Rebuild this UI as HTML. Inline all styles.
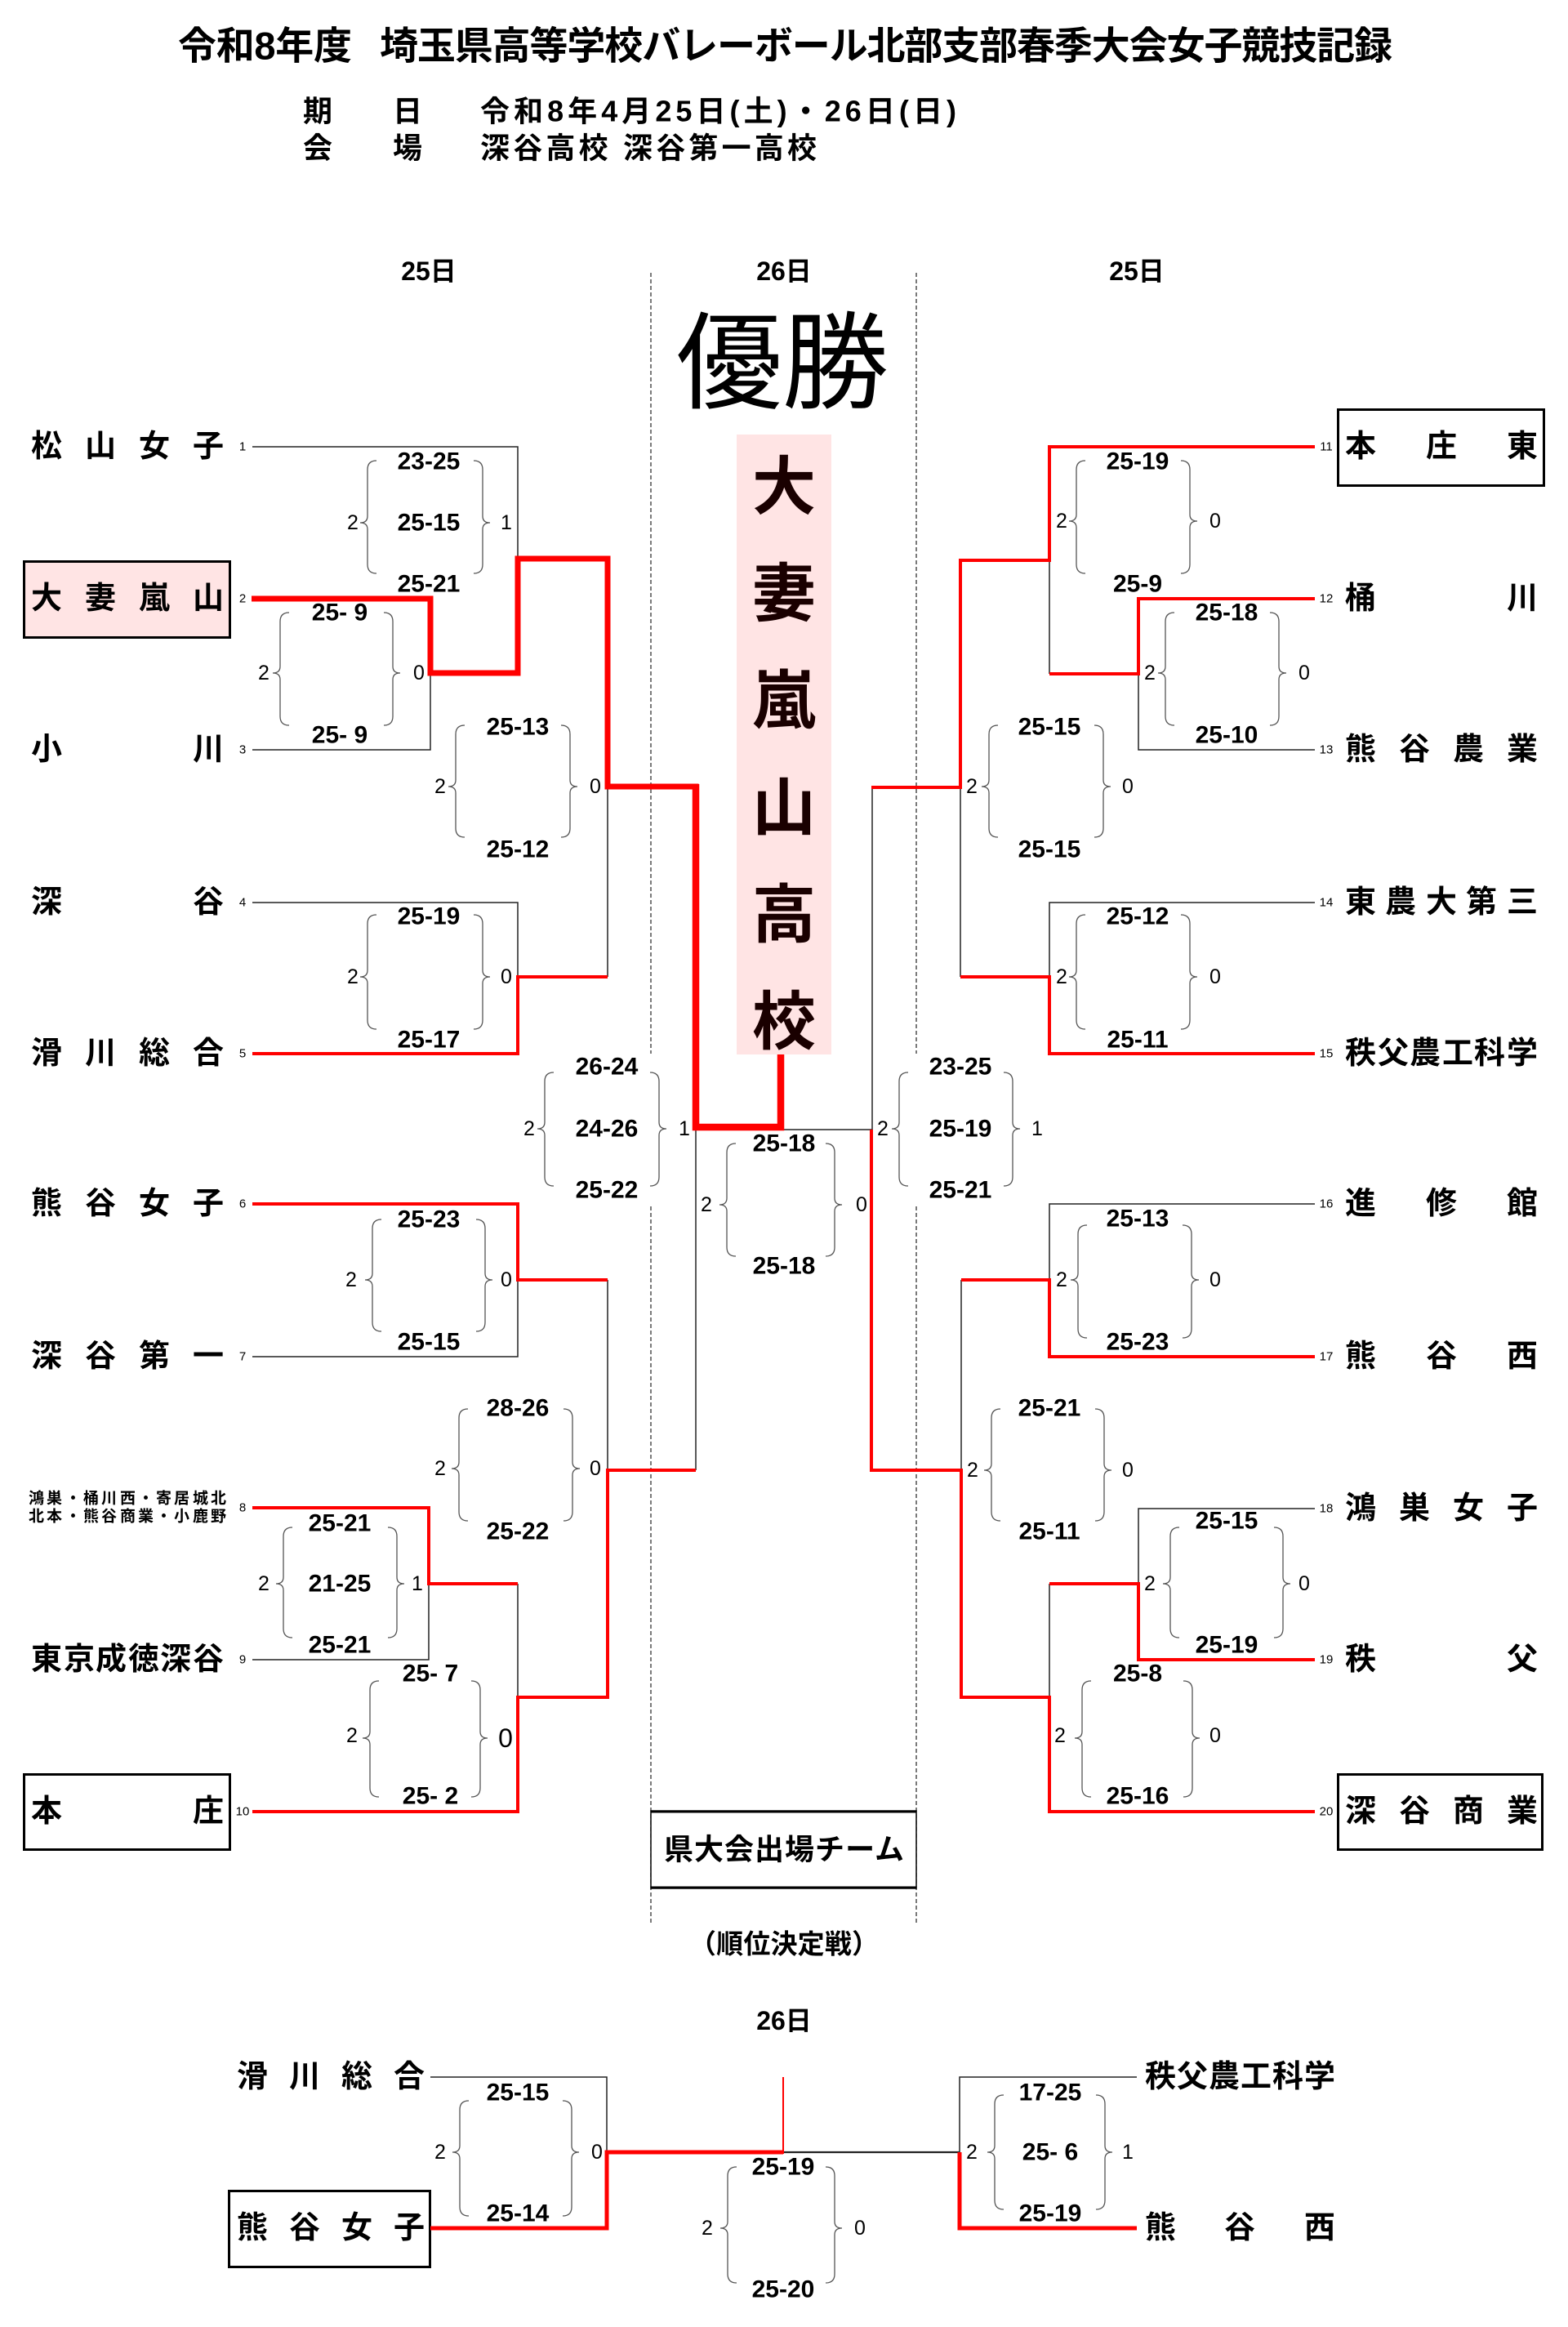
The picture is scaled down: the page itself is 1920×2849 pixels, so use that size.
<!DOCTYPE html>
<html><head><meta charset="utf-8"><title>令和8年度 埼玉県高等学校バレーボール北部支部春季大会女子競技記録</title>
<style>
html,body{margin:0;padding:0;background:#fff;}
svg{display:block;}
.t{font-family:"Liberation Sans","Noto Sans CJK JP",sans-serif;font-weight:bold;dominant-baseline:central;fill:#000;}
.nm{font-family:"Liberation Sans","Noto Sans CJK JP",sans-serif;font-weight:bold;font-size:38px;dominant-baseline:central;fill:#000;}
.sm{font-family:"Liberation Sans","Noto Sans CJK JP",sans-serif;font-weight:bold;font-size:19px;dominant-baseline:central;fill:#000;}
.s{font-family:"Liberation Sans",sans-serif;font-size:30px;font-weight:bold;text-anchor:middle;dominant-baseline:central;fill:#000;}
.n{font-family:"Liberation Sans",sans-serif;font-size:25px;text-anchor:middle;dominant-baseline:central;fill:#000;}
.sd{font-family:"Liberation Sans",sans-serif;font-size:15px;text-anchor:middle;dominant-baseline:central;fill:#000;}
.k{stroke:#222;stroke-width:1.5;fill:none;}
.r{stroke:#ff0000;stroke-width:4;fill:none;stroke-linejoin:miter;}
.b{stroke:#555;stroke-width:1.3;fill:none;}
.d{stroke:#333;stroke-width:1.3;stroke-dasharray:5 3;fill:none;}
</style></head>
<body>
<svg width="1920" height="2849" viewBox="0 0 1920 2849" xmlns="http://www.w3.org/2000/svg">
<rect x="0" y="0" width="1920" height="2849" fill="#fff"/>

<!-- Header -->
<text class="t" x="218" y="56" font-size="47" textLength="213">令和8年度</text>
<text class="t" x="465" y="56" font-size="47" textLength="1240">埼玉県高等学校バレーボール北部支部春季大会女子競技記録</text>
<text class="t" x="371 481" y="136" font-size="36">期日</text>
<text class="t" x="588" y="136" font-size="36" textLength="583">令和8年4月25日(土)・26日(日)</text>
<text class="t" x="371 481" y="181" font-size="36">会場</text>
<text class="t" x="588" y="181" font-size="36" textLength="412">深谷高校 深谷第一高校</text>

<text class="t" x="525" y="332" font-size="32" text-anchor="middle">25日</text>
<text class="t" x="960" y="332" font-size="32" text-anchor="middle">26日</text>
<text class="t" x="1392" y="332" font-size="32" text-anchor="middle">25日</text>

<!-- dashed lines -->
<line class="d" x1="797" y1="334" x2="797" y2="1290"/>
<line class="d" x1="797" y1="1477" x2="797" y2="2357"/>
<line class="d" x1="1122" y1="334" x2="1122" y2="1290"/>
<line class="d" x1="1122" y1="1477" x2="1122" y2="2357"/>

<!-- 優勝 -->
<text x="958" y="434" font-size="130" text-anchor="middle" style="font-family:'Noto Sans CJK JP',sans-serif;dominant-baseline:central;fill:#000;">優勝</text>
<rect x="902" y="532" width="116" height="759" fill="#ffe4e4"/>
<g style="font-family:'Noto Sans CJK JP',sans-serif;font-weight:bold;font-size:78px;dominant-baseline:central;fill:#1a0000;" text-anchor="middle">
<text x="960" y="590">大</text>
<text x="960" y="721">妻</text>
<text x="960" y="852">嵐</text>
<text x="960" y="983">山</text>
<text x="960" y="1114">高</text>
<text x="960" y="1245">校</text>
</g>

<!-- Team boxes -->
<rect x="29.5" y="687.5" width="252" height="93" fill="#ffe4e4" stroke="#000" stroke-width="3"/>
<rect x="29.5" y="2172.5" width="252" height="92" fill="#fff" stroke="#000" stroke-width="3"/>
<rect x="1638.5" y="501.5" width="252" height="93" fill="#fff" stroke="#000" stroke-width="3"/>
<rect x="1638.5" y="2172.5" width="250" height="92" fill="#fff" stroke="#000" stroke-width="3"/>

<!-- Left team names -->
<text class="nm" x="38 104 170 236" y="547">松山女子</text>
<text class="nm" x="38 104 170 236" y="733">大妻嵐山</text>
<text class="nm" x="38 236" y="918">小川</text>
<text class="nm" x="38 236" y="1105">深谷</text>
<text class="nm" x="38 104 170 236" y="1290">滑川総合</text>
<text class="nm" x="38 104 170 236" y="1474">熊谷女子</text>
<text class="nm" x="38 104 170 236" y="1661">深谷第一</text>
<text class="sm" x="35 57 80 102 124 147 169 191 213 236 258" y="1835">鴻巣・桶川西・寄居城北</text>
<text class="sm" x="35 57 80 102 124 147 169 191 213 236 258" y="1857">北本・熊谷商業・小鹿野</text>
<text class="nm" x="38 78 117 157 196 236" y="2032">東京成徳深谷</text>
<text class="nm" x="38 236" y="2218">本庄</text>

<!-- Right team names -->
<text class="nm" x="1647 1746 1845" y="547">本庄東</text>
<text class="nm" x="1647 1845" y="733">桶川</text>
<text class="nm" x="1647 1713 1779 1845" y="918">熊谷農業</text>
<text class="nm" x="1647 1696 1746 1795 1845" y="1105">東農大第三</text>
<text class="nm" x="1647 1687 1726 1766 1805 1845" y="1290">秩父農工科学</text>
<text class="nm" x="1647 1746 1845" y="1474">進修館</text>
<text class="nm" x="1647 1746 1845" y="1661">熊谷西</text>
<text class="nm" x="1647 1713 1779 1845" y="1847">鴻巣女子</text>
<text class="nm" x="1647 1845" y="2032">秩父</text>
<text class="nm" x="1647 1713 1779 1845" y="2218">深谷商業</text>

<!-- Seeds -->
<text class="sd" x="297" y="547">1</text>
<text class="sd" x="297" y="733">2</text>
<text class="sd" x="297" y="918">3</text>
<text class="sd" x="297" y="1105">4</text>
<text class="sd" x="297" y="1290">5</text>
<text class="sd" x="297" y="1474">6</text>
<text class="sd" x="297" y="1661">7</text>
<text class="sd" x="297" y="1846">8</text>
<text class="sd" x="297" y="2032">9</text>
<text class="sd" x="297" y="2218">10</text>
<text class="sd" x="1624" y="547">11</text>
<text class="sd" x="1624" y="733">12</text>
<text class="sd" x="1624" y="918">13</text>
<text class="sd" x="1624" y="1105">14</text>
<text class="sd" x="1624" y="1290">15</text>
<text class="sd" x="1624" y="1474">16</text>
<text class="sd" x="1624" y="1661">17</text>
<text class="sd" x="1624" y="1847">18</text>
<text class="sd" x="1624" y="2032">19</text>
<text class="sd" x="1624" y="2218">20</text>

<!-- Black thin lines -->
<polyline class="k" points="309,547 634,547 634,684"/>
<polyline class="k" points="527,824 527,918 309,918"/>
<polyline class="k" points="744,963 744,1196"/>
<polyline class="k" points="309,1105 634,1105 634,1196"/>
<polyline class="k" points="634,1567 634,1661 309,1661"/>
<polyline class="k" points="744,1567 744,1800"/>
<polyline class="k" points="852,1380 852,1800"/>
<polyline class="k" points="525,1939 525,2032 309,2032"/>
<polyline class="k" points="634,1939 634,2078"/>
<polyline class="k" points="956,1383 1068,1383"/>
<polyline class="k" points="1068,964 1068,1383"/>
<polyline class="k" points="1285,686 1285,825"/>
<polyline class="k" points="1394,825 1394,918 1610,918"/>
<polyline class="k" points="1176,964 1176,1196"/>
<polyline class="k" points="1610,1105 1285,1105 1285,1196"/>
<polyline class="k" points="1610,1474 1285,1474 1285,1567"/>
<polyline class="k" points="1177,1567 1177,1800"/>
<polyline class="k" points="1610,1847 1394,1847 1394,1939"/>
<polyline class="k" points="1285,1939 1285,2078"/>

<!-- Red lines -->
<polyline class="r" points="309,1290 634,1290 634,1196 744,1196"/>
<polyline class="r" points="309,1474 634,1474 634,1567 744,1567"/>
<polyline class="r" points="852,1800 744,1800 744,2078 634,2078 634,2218 309,2218"/>
<polyline class="r" points="309,1846 525,1846 525,1939 634,1939"/>
<polyline class="r" points="1610,547 1285,547 1285,686 1176,686 1176,964 1067,964"/>
<polyline class="r" points="1610,733 1394,733 1394,825 1285,825"/>
<polyline class="r" points="1610,1290 1285,1290 1285,1196 1176,1196"/>
<polyline class="r" points="1610,1661 1285,1661 1285,1567 1177,1567"/>
<polyline class="r" points="1067,1383 1067,1800 1177,1800 1177,2078 1285,2078 1285,2218 1610,2218"/>
<polyline class="r" points="1610,2032 1394,2032 1394,1939 1285,1939"/>
<!-- Champion path -->
<polyline class="r" style="stroke-width:7" points="308,733 527,733 527,824 634,824 634,684 744,684 744,963 852,963 852,1380"/>
<polyline class="r" style="stroke-width:8.5" points="852,960 852,1380 956,1380 956,1291"/>

<!-- Braces -->
<g class="b">
<path d="M354 750 Q343 750 343 761 L343 816 Q343 824 334 824 Q343 824 343 832 L343 877 Q343 888 354 888"/>
<path d="M470 750 Q481 750 481 761 L481 816 Q481 824 490 824 Q481 824 481 832 L481 877 Q481 888 470 888"/>
<path d="M461 564 Q450 564 450 575 L450 632 Q450 640 441 640 Q450 640 450 648 L450 691 Q450 702 461 702"/>
<path d="M580 564 Q591 564 591 575 L591 632 Q591 640 600 640 Q591 640 591 648 L591 691 Q591 702 580 702"/>
<path d="M461 1120 Q450 1120 450 1131 L450 1188 Q450 1196 441 1196 Q450 1196 450 1204 L450 1249 Q450 1260 461 1260"/>
<path d="M580 1120 Q591 1120 591 1131 L591 1188 Q591 1196 600 1196 Q591 1196 591 1204 L591 1249 Q591 1260 580 1260"/>
<path d="M569 888 Q558 888 558 899 L558 955 Q558 963 549 963 Q558 963 558 971 L558 1014 Q558 1025 569 1025"/>
<path d="M687 888 Q698 888 698 899 L698 955 Q698 963 707 963 Q698 963 698 971 L698 1014 Q698 1025 687 1025"/>
<path d="M467 1493 Q456 1493 456 1504 L456 1559 Q456 1567 447 1567 Q456 1567 456 1575 L456 1619 Q456 1630 467 1630"/>
<path d="M583 1493 Q594 1493 594 1504 L594 1559 Q594 1567 603 1567 Q594 1567 594 1575 L594 1619 Q594 1630 583 1630"/>
<path d="M358 1870 Q347 1870 347 1881 L347 1931 Q347 1939 338 1939 Q347 1939 347 1947 L347 1994 Q347 2005 358 2005"/>
<path d="M475 1870 Q486 1870 486 1881 L486 1931 Q486 1939 495 1939 Q486 1939 486 1947 L486 1994 Q486 2005 475 2005"/>
<path d="M464 2058 Q453 2058 453 2069 L453 2120 Q453 2128 444 2128 Q453 2128 453 2136 L453 2189 Q453 2200 464 2200"/>
<path d="M577 2058 Q588 2058 588 2069 L588 2120 Q588 2128 597 2128 Q588 2128 588 2136 L588 2189 Q588 2200 577 2200"/>
<path d="M573 1725 Q562 1725 562 1736 L562 1790 Q562 1798 553 1798 Q562 1798 562 1806 L562 1851 Q562 1862 573 1862"/>
<path d="M690 1725 Q701 1725 701 1736 L701 1790 Q701 1798 710 1798 Q701 1798 701 1806 L701 1851 Q701 1862 690 1862"/>
<path d="M678 1313 Q667 1313 667 1324 L667 1374 Q667 1382 658 1382 Q667 1382 667 1390 L667 1441 Q667 1452 678 1452"/>
<path d="M796 1313 Q807 1313 807 1324 L807 1374 Q807 1382 816 1382 Q807 1382 807 1390 L807 1441 Q807 1452 796 1452"/>
<path d="M901 1400 Q890 1400 890 1411 L890 1467 Q890 1475 881 1475 Q890 1475 890 1483 L890 1527 Q890 1538 901 1538"/>
<path d="M1011 1400 Q1022 1400 1022 1411 L1022 1467 Q1022 1475 1031 1475 Q1022 1475 1022 1483 L1022 1527 Q1022 1538 1011 1538"/>
<path d="M1438 750 Q1427 750 1427 761 L1427 816 Q1427 824 1418 824 Q1427 824 1427 832 L1427 877 Q1427 888 1438 888"/>
<path d="M1555 750 Q1566 750 1566 761 L1566 816 Q1566 824 1575 824 Q1566 824 1566 832 L1566 877 Q1566 888 1555 888"/>
<path d="M1329 564 Q1318 564 1318 575 L1318 630 Q1318 638 1309 638 Q1318 638 1318 646 L1318 691 Q1318 702 1329 702"/>
<path d="M1446 564 Q1457 564 1457 575 L1457 630 Q1457 638 1466 638 Q1457 638 1457 646 L1457 691 Q1457 702 1446 702"/>
<path d="M1329 1120 Q1318 1120 1318 1131 L1318 1188 Q1318 1196 1309 1196 Q1318 1196 1318 1204 L1318 1249 Q1318 1260 1329 1260"/>
<path d="M1446 1120 Q1457 1120 1457 1131 L1457 1188 Q1457 1196 1466 1196 Q1457 1196 1457 1204 L1457 1249 Q1457 1260 1446 1260"/>
<path d="M1222 888 Q1211 888 1211 899 L1211 955 Q1211 963 1202 963 Q1211 963 1211 971 L1211 1014 Q1211 1025 1222 1025"/>
<path d="M1340 888 Q1351 888 1351 899 L1351 955 Q1351 963 1360 963 Q1351 963 1351 971 L1351 1014 Q1351 1025 1340 1025"/>
<path d="M1331 1500 Q1320 1500 1320 1511 L1320 1559 Q1320 1567 1311 1567 Q1320 1567 1320 1575 L1320 1627 Q1320 1638 1331 1638"/>
<path d="M1448 1500 Q1459 1500 1459 1511 L1459 1559 Q1459 1567 1468 1567 Q1459 1567 1459 1575 L1459 1627 Q1459 1638 1448 1638"/>
<path d="M1444 1870 Q1433 1870 1433 1881 L1433 1931 Q1433 1939 1424 1939 Q1433 1939 1433 1947 L1433 1994 Q1433 2005 1444 2005"/>
<path d="M1560 1870 Q1571 1870 1571 1881 L1571 1931 Q1571 1939 1580 1939 Q1571 1939 1571 1947 L1571 1994 Q1571 2005 1560 2005"/>
<path d="M1336 2058 Q1325 2058 1325 2069 L1325 2120 Q1325 2128 1316 2128 Q1325 2128 1325 2136 L1325 2189 Q1325 2200 1336 2200"/>
<path d="M1449 2058 Q1460 2058 1460 2069 L1460 2120 Q1460 2128 1469 2128 Q1460 2128 1460 2136 L1460 2189 Q1460 2200 1449 2200"/>
<path d="M1225 1725 Q1214 1725 1214 1736 L1214 1792 Q1214 1800 1205 1800 Q1214 1800 1214 1808 L1214 1851 Q1214 1862 1225 1862"/>
<path d="M1341 1725 Q1352 1725 1352 1736 L1352 1792 Q1352 1800 1361 1800 Q1352 1800 1352 1808 L1352 1851 Q1352 1862 1341 1862"/>
<path d="M1112 1313 Q1101 1313 1101 1324 L1101 1374 Q1101 1382 1092 1382 Q1101 1382 1101 1390 L1101 1441 Q1101 1452 1112 1452"/>
<path d="M1229 1313 Q1240 1313 1240 1324 L1240 1374 Q1240 1382 1249 1382 Q1240 1382 1240 1390 L1240 1441 Q1240 1452 1229 1452"/>
<path d="M574 2572 Q563 2572 563 2583 L563 2627 Q563 2635 554 2635 Q563 2635 563 2643 L563 2702 Q563 2713 574 2713"/>
<path d="M689 2572 Q700 2572 700 2583 L700 2627 Q700 2635 709 2635 Q700 2635 700 2643 L700 2702 Q700 2713 689 2713"/>
<path d="M902 2653 Q891 2653 891 2664 L891 2720 Q891 2728 882 2728 Q891 2728 891 2736 L891 2784 Q891 2795 902 2795"/>
<path d="M1011 2653 Q1022 2653 1022 2664 L1022 2720 Q1022 2728 1031 2728 Q1022 2728 1022 2736 L1022 2784 Q1022 2795 1011 2795"/>
<path d="M1229 2565 Q1218 2565 1218 2576 L1218 2627 Q1218 2635 1209 2635 Q1218 2635 1218 2643 L1218 2694 Q1218 2705 1229 2705"/>
<path d="M1342 2565 Q1353 2565 1353 2576 L1353 2627 Q1353 2635 1362 2635 Q1353 2635 1353 2643 L1353 2694 Q1353 2705 1342 2705"/>
</g>

<!-- Scores left -->
<text class="s" x="416" y="750">25- 9</text>
<text class="s" x="416" y="900">25- 9</text>
<text class="n" x="323" y="824">2</text><text class="n" x="513" y="824">0</text>

<text class="s" x="525" y="565">23-25</text>
<text class="s" x="525" y="640">25-15</text>
<text class="s" x="525" y="715">25-21</text>
<text class="n" x="432" y="640">2</text><text class="n" x="620" y="640">1</text>

<text class="s" x="525" y="1122">25-19</text>
<text class="s" x="525" y="1273">25-17</text>
<text class="n" x="432" y="1196">2</text><text class="n" x="620" y="1196">0</text>

<text class="s" x="634" y="890">25-13</text>
<text class="s" x="634" y="1040">25-12</text>
<text class="n" x="539" y="963">2</text><text class="n" x="729" y="963">0</text>

<text class="s" x="525" y="1493">25-23</text>
<text class="s" x="525" y="1643">25-15</text>
<text class="n" x="430" y="1567">2</text><text class="n" x="620" y="1567">0</text>

<text class="s" x="416" y="1865">25-21</text>
<text class="s" x="416" y="1939">21-25</text>
<text class="s" x="416" y="2014">25-21</text>
<text class="n" x="323" y="1939">2</text><text class="n" x="511" y="1939">1</text>

<text class="s" x="527" y="2049">25- 7</text>
<text class="s" x="527" y="2199">25- 2</text>
<text class="n" x="431" y="2125">2</text><text class="n" x="619" y="2128" style="font-size:32px">0</text>

<text class="s" x="634" y="1724">28-26</text>
<text class="s" x="634" y="1875">25-22</text>
<text class="n" x="539" y="1798">2</text><text class="n" x="729" y="1798">0</text>

<text class="s" x="743" y="1306">26-24</text>
<text class="s" x="743" y="1382">24-26</text>
<text class="s" x="743" y="1457">25-22</text>
<text class="n" x="648" y="1382">2</text><text class="n" x="838" y="1382">1</text>

<!-- Final -->
<text class="s" x="960" y="1400">25-18</text>
<text class="s" x="960" y="1550">25-18</text>
<text class="n" x="865" y="1475">2</text><text class="n" x="1055" y="1475">0</text>

<!-- Scores right -->
<text class="s" x="1502" y="750">25-18</text>
<text class="s" x="1502" y="900">25-10</text>
<text class="n" x="1408" y="824">2</text><text class="n" x="1597" y="824">0</text>

<text class="s" x="1393" y="565">25-19</text>
<text class="s" x="1393" y="715">25-9</text>
<text class="n" x="1300" y="638">2</text><text class="n" x="1488" y="638">0</text>

<text class="s" x="1393" y="1122">25-12</text>
<text class="s" x="1393" y="1273">25-11</text>
<text class="n" x="1300" y="1196">2</text><text class="n" x="1488" y="1196">0</text>

<text class="s" x="1285" y="890">25-15</text>
<text class="s" x="1285" y="1040">25-15</text>
<text class="n" x="1190" y="963">2</text><text class="n" x="1381" y="963">0</text>

<text class="s" x="1393" y="1492">25-13</text>
<text class="s" x="1393" y="1643">25-23</text>
<text class="n" x="1300" y="1567">2</text><text class="n" x="1488" y="1567">0</text>

<text class="s" x="1502" y="1862">25-15</text>
<text class="s" x="1502" y="2014">25-19</text>
<text class="n" x="1408" y="1939">2</text><text class="n" x="1597" y="1939">0</text>

<text class="s" x="1393" y="2049">25-8</text>
<text class="s" x="1393" y="2199">25-16</text>
<text class="n" x="1298" y="2125">2</text><text class="n" x="1488" y="2125">0</text>

<text class="s" x="1285" y="1724">25-21</text>
<text class="s" x="1285" y="1875">25-11</text>
<text class="n" x="1191" y="1800">2</text><text class="n" x="1381" y="1800">0</text>

<text class="s" x="1176" y="1306">23-25</text>
<text class="s" x="1176" y="1382">25-19</text>
<text class="s" x="1176" y="1457">25-21</text>
<text class="n" x="1081" y="1382">2</text><text class="n" x="1270" y="1382">1</text>

<!-- 県大会出場チーム box -->
<rect x="797" y="2217" width="325" height="95" fill="#fff" stroke="#000" stroke-width="1.5"/>
<line x1="797" y1="2218" x2="1122" y2="2218" stroke="#000" stroke-width="3"/>
<line x1="797" y1="2311" x2="1122" y2="2311" stroke="#000" stroke-width="3"/>
<text class="t" x="960" y="2264" font-size="36" text-anchor="middle" textLength="294">県大会出場チーム</text>

<text class="t" x="960" y="2380" font-size="33" text-anchor="middle" textLength="232">（順位決定戦）</text>

<!-- Bottom section -->
<text class="t" x="960" y="2474" font-size="32" text-anchor="middle">26日</text>

<rect x="280.5" y="2682.5" width="246" height="93" fill="#fff" stroke="#000" stroke-width="3"/>
<text class="nm" x="290 354 418 482" y="2543">滑川総合</text>
<text class="nm" x="290 354 418 482" y="2728">熊谷女子</text>
<text class="nm" x="1402 1441 1480 1519 1558 1597" y="2543">秩父農工科学</text>
<text class="nm" x="1402 1499 1597" y="2728">熊谷西</text>

<polyline class="k" points="527,2543 743,2543 743,2635"/>
<polyline class="k" style="stroke-width:2.2" points="959,2635 1175,2635"/>
<polyline class="k" points="1392,2543 1175,2543 1175,2635"/>
<polyline class="r" style="stroke-width:5" points="527,2728 743,2728 743,2635 959,2635"/>
<polyline class="r" style="stroke-width:2" points="959,2637 959,2543"/>
<polyline class="r" style="stroke-width:5" points="1175,2635 1175,2728 1392,2728"/>

<text class="s" x="634" y="2562">25-15</text>
<text class="s" x="634" y="2710">25-14</text>
<text class="n" x="539" y="2635">2</text><text class="n" x="731" y="2635">0</text>

<text class="s" x="959" y="2653">25-19</text>
<text class="s" x="959" y="2803">25-20</text>
<text class="n" x="866" y="2728">2</text><text class="n" x="1053" y="2728">0</text>

<text class="s" x="1286" y="2562">17-25</text>
<text class="s" x="1286" y="2635">25- 6</text>
<text class="s" x="1286" y="2710">25-19</text>
<text class="n" x="1190" y="2635">2</text><text class="n" x="1381" y="2635">1</text>
</svg>
</body></html>
